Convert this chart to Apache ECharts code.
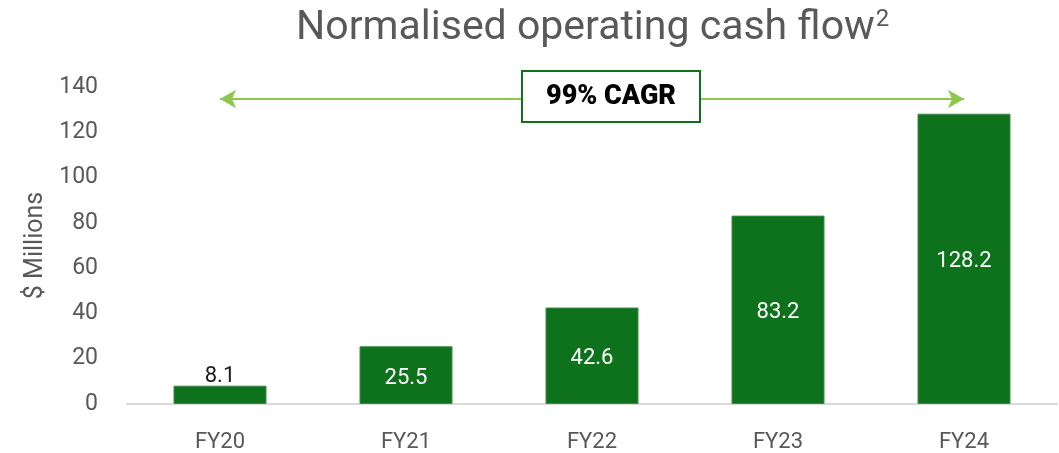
<!DOCTYPE html>
<html>
<head>
<meta charset="utf-8">
<script src="https://cdn.jsdelivr.net/npm/echarts@6/dist/echarts.min.js"></script>
<style>
  html, body { margin: 0; padding: 0; background: #fff; }
  #chart { width: 1059px; height: 453px; }
</style>
</head>
<body>
<div id="chart"></div>
<script>
const categories = ['FY20', 'FY21', 'FY22', 'FY23', 'FY24']
const cashFlow = [8.1, 25.5, 42.6, 83.2, 128.2]
const yTicks = [0, 20, 40, 60, 80, 100, 120, 140]
const cagrLabel = '99% CAGR'
const cagrLevel = 134.7

const font = "Roboto, 'Noto Sans', sans-serif"
const grey = '#595959'

const chart = echarts.init(document.getElementById('chart'))

chart.setOption({
  animation: false,
  title: {
    text: 'Normalised operating cash flow{sup|2}',
    left: 291,
    top: 3,
    textStyle: {
      fontFamily: font,
      fontSize: 41,
      fontWeight: 'normal',
      color: grey,
      rich: {
        sup: { fontFamily: font, fontSize: 24, color: grey, verticalAlign: 'top', padding: [0, 0, 17, 1] }
      }
    }
  },
  grid: { left: 127, right: 2, top: 87, bottom: 49 },
  xAxis: {
    type: 'category',
    data: categories,
    axisTick: { show: false },
    axisLine: { lineStyle: { color: '#d9d9d9', width: 2 } },
    axisLabel: { fontFamily: font, fontSize: 22, color: grey, margin: 27 }
  },
  yAxis: {
    type: 'value',
    min: yTicks[0],
    max: yTicks[yTicks.length - 1],
    interval: 20,
    name: '$ Millions',
    nameLocation: 'middle',
    nameGap: 78,
    nameTextStyle: { fontFamily: font, fontSize: 25, color: grey },
    splitLine: { show: false },
    axisLine: { show: false },
    axisLabel: { fontFamily: font, fontSize: 23, color: grey, margin: 29 }
  },
  series: [{
    type: 'bar',
    data: cashFlow.map((v, i) => ({
      value: v,
      label: i === 0
        ? { position: 'top', distance: -2, color: '#1a1a1a' }
        : { position: 'inside', color: '#ffffff', offset: [0, 3] }
    })),
    barWidth: '50%',
    itemStyle: { color: '#0e711c', borderColor: '#3d8c48', borderWidth: 1 },
    label: { show: true, fontFamily: font, fontSize: 22 },
    markLine: {
      silent: true,
      symbol: ['arrow', 'arrow'],
      symbolSize: [14, 16],
      lineStyle: { color: '#8cc84b', width: 2, type: 'solid' },
      data: [[
        { xAxis: categories[0], yAxis: cagrLevel },
        { xAxis: categories[categories.length - 1], yAxis: cagrLevel }
      ]],
      label: {
        show: true,
        position: 'middle',
        formatter: cagrLabel,
        offset: [19, 27],
        fontFamily: font,
        fontWeight: 900,
        fontSize: 27,
        color: '#000',
        backgroundColor: '#fff',
        borderColor: '#0e711c',
        borderWidth: 2,
        width: 176,
        align: 'center',
        padding: [12, 0, 10, 0]
      }
    }
  }]
})
</script>
</body>
</html>
